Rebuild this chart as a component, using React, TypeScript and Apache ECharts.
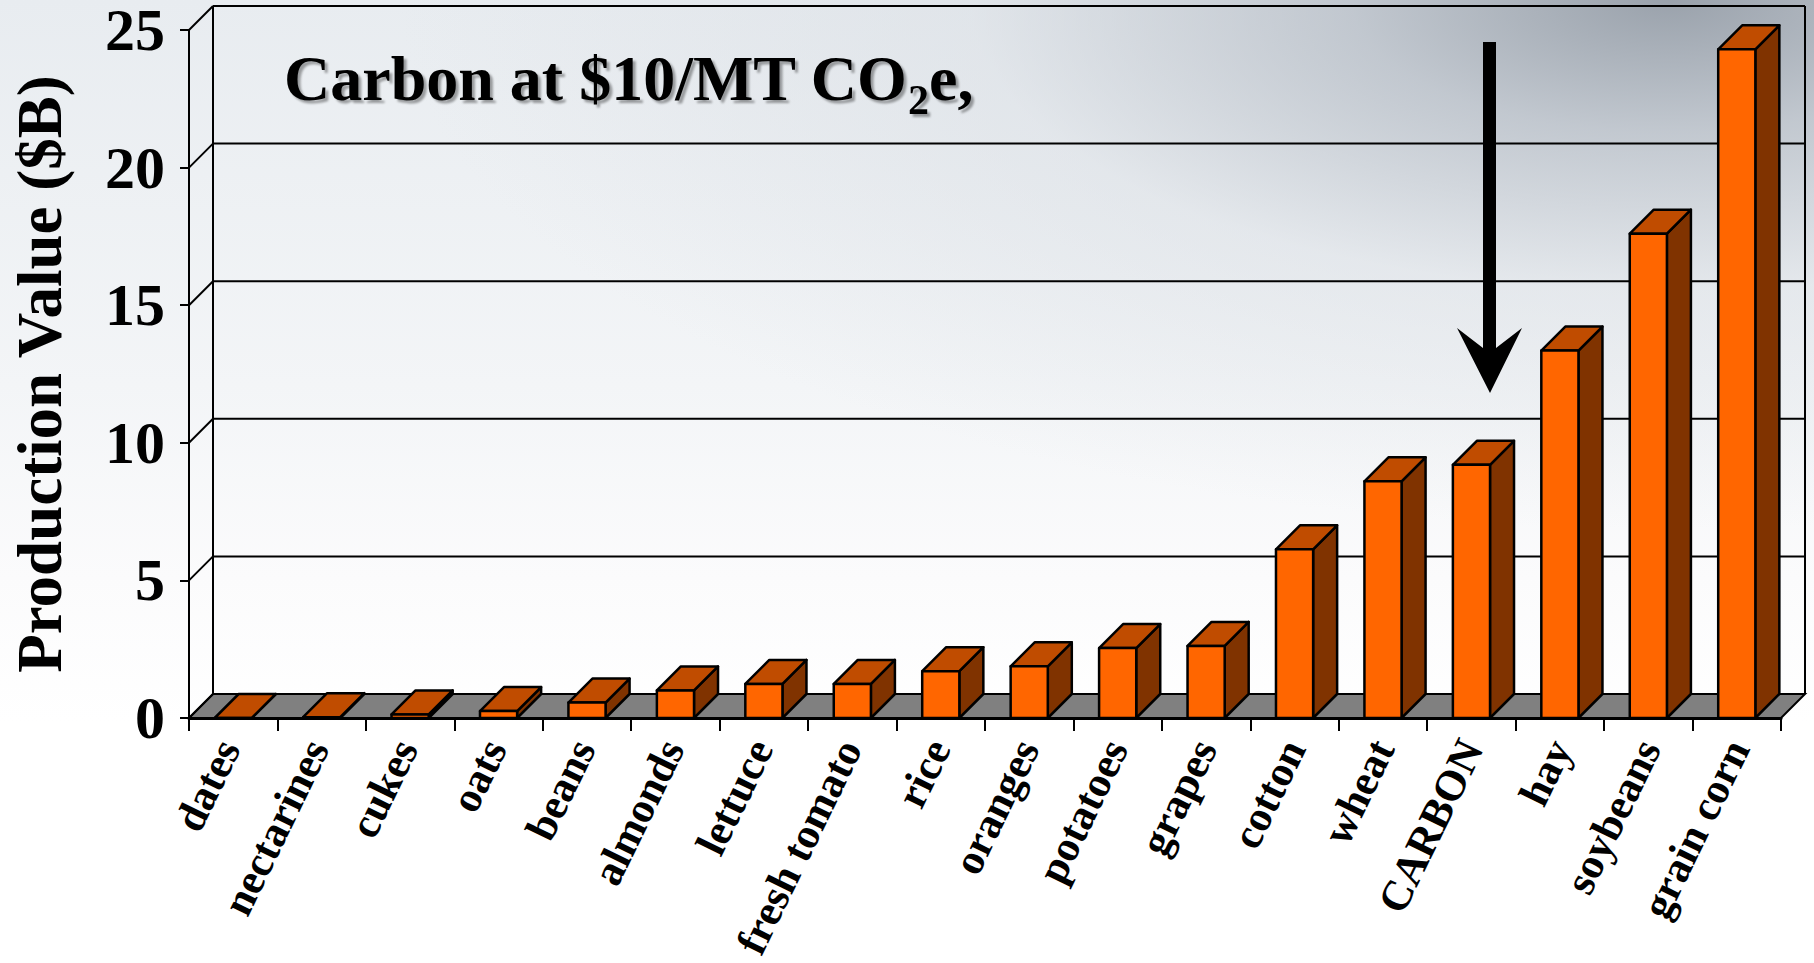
import React, { useEffect, useRef } from "react";
import * as echarts from "echarts";

// ---------- data ----------
const categories = [
  "dates", "nectarines", "cukes", "oats", "beans", "almonds", "lettuce",
  "fresh tomato", "rice", "oranges", "potatoes", "grapes", "cotton",
  "wheat", "CARBON", "hay", "soybeans", "grain corn",
];
const values = [
  0, 0.03, 0.13, 0.25, 0.56, 1.0, 1.24, 1.24, 1.7, 1.88, 2.54, 2.62, 6.13,
  8.6, 9.2, 13.35, 17.6, 24.3,
];
const yTicks = [0, 5, 10, 15, 20, 25];
const yMin = 0;
const yMax = 25;
const yStep = 5;
const titleMain = "Carbon at $10/MT CO";
const titleSub = "2";
const titleEnd = "e,";
const yAxisTitle = "Production Value ($B)";

// ---------- style ----------
const FONT = '"Liberation Serif", "Times New Roman", serif';
const FRONT = "#FF6600";
const TOPC = "#C04C00";
const SIDE = "#803300";
const FLOOR = "#808080";
const D = 24; // depth offset
const BAR_RATIO = 0.42;

function measure(text: string, font: string): number {
  const c = document.createElement("canvas").getContext("2d");
  if (!c) return text.length * 30;
  c.font = font;
  return c.measureText(text).width;
}

export default function App() {
  const ref = useRef<HTMLDivElement>(null);

  useEffect(() => {
    if (!ref.current) return;
    const chart = echarts.init(ref.current, undefined, { renderer: "svg" });

    const gridLeft = 183;
    const gridRight = 33;
    const gridTop = 28;
    const gridBottom = 245;
    const labelShift = 1;

    const mainFont = `bold 64px ${FONT}`;
    const subFont = `bold 42px ${FONT}`;
    const tx = 284;
    const wMain = measure(titleMain, mainFont);
    const wSub = measure(titleSub, subFont);
    const shadow = {
      textShadowColor: "rgba(0,0,0,0.35)",
      textShadowOffsetX: 3,
      textShadowOffsetY: 3,
      textShadowBlur: 2,
    };

    const option: any = {
      animation: false,
      backgroundColor: "transparent",
      grid: [
        { left: gridLeft, right: gridRight, top: gridTop, bottom: gridBottom },
        {
          left: gridLeft + labelShift,
          right: gridRight - labelShift,
          top: gridTop,
          bottom: gridBottom,
        },
      ],
      xAxis: [
        {
          type: "category",
          gridIndex: 0,
          data: categories,
          boundaryGap: true,
          axisLine: { show: true, lineStyle: { color: "#000", width: 3 } },
          axisTick: {
            show: true,
            length: 13,
            interval: 0,
            lineStyle: { color: "#000", width: 2 },
          },
          axisLabel: { show: false },
          splitLine: { show: false },
          z: 10,
        },
        {
          type: "category",
          gridIndex: 1,
          data: categories,
          axisLine: { show: false },
          axisTick: { show: false },
          splitLine: { show: false },
          axisLabel: {
            show: true,
            interval: 0,
            rotate: 64,
            margin: 40,
            fontSize: 43,
            fontWeight: "bold",
            fontFamily: FONT,
            color: "#000",
          },
        },
      ],
      yAxis: [
        {
          type: "value",
          gridIndex: 0,
          min: yMin,
          max: yMax,
          interval: yStep,
          axisLine: { show: true, lineStyle: { color: "#000", width: 2 } },
          axisTick: { show: true, length: 9, lineStyle: { color: "#000", width: 2 } },
          axisLabel: {
            show: true,
            margin: 24,
            fontSize: 60,
            lineHeight: 44,
            fontWeight: "bold",
            fontFamily: FONT,
            color: "#000",
          },
          splitLine: { show: false },
          name: yAxisTitle,
          nameLocation: "middle",
          nameRotate: 90,
          nameGap: 118,
          nameTextStyle: {
            fontSize: 63,
            fontWeight: "bold",
            fontFamily: FONT,
            color: "#000",
          },
          z: 10,
        },
        {
          type: "value",
          gridIndex: 1,
          min: yMin,
          max: yMax,
          interval: yStep,
          show: false,
        },
      ],
      series: [
        {
          type: "custom",
          name: "frame",
          xAxisIndex: 0,
          yAxisIndex: 0,
          silent: true,
          z: 1,
          data: [[0, 0]],
          renderItem: (params: any, api: any) => {
            const cs = params.coordSys;
            const L = cs.x;
            const R = cs.x + cs.width;
            const y0 = api.coord([0, yMin])[1];
            const yT = api.coord([0, yMax])[1];
            const ls = { stroke: "#000", lineWidth: 2 };
            const children: any[] = [
              {
                type: "polygon",
                shape: { points: [[L, y0], [R, y0], [R + D, y0 - D], [L + D, y0 - D]] },
                style: { fill: FLOOR, stroke: "#000", lineWidth: 2 },
              },
            ];
            yTicks.forEach((t) => {
              const y = api.coord([0, t])[1];
              children.push({
                type: "line",
                shape: { x1: L, y1: y, x2: L + D, y2: y - D },
                style: ls,
              });
              children.push({
                type: "line",
                shape: { x1: L + D, y1: y - D, x2: R + D, y2: y - D },
                style: ls,
              });
            });
            children.push({
              type: "line",
              shape: { x1: L + D, y1: y0 - D, x2: L + D, y2: yT - D },
              style: ls,
            });
            children.push({
              type: "line",
              shape: { x1: R + D, y1: y0 - D, x2: R + D, y2: yT - D },
              style: ls,
            });
            return { type: "group", children };
          },
        },
        {
          type: "custom",
          name: "Production Value",
          xAxisIndex: 0,
          yAxisIndex: 0,
          z: 3,
          encode: { x: 0, y: 1 },
          data: values.map((v, i) => [i, v]),
          renderItem: (params: any, api: any) => {
            const i = api.value(0);
            const v = api.value(1);
            const p0 = api.coord([i, 0]);
            const p1 = api.coord([i, v]);
            const cw = api.size([1, 0])[0];
            const bw = cw * BAR_RATIO;
            const x0 = p0[0] - bw / 2;
            const x1 = p0[0] + bw / 2;
            const yb = p0[1];
            const yt = p1[1];
            const st = { stroke: "#000", lineWidth: 2.5, lineJoin: "round" };
            return {
              type: "group",
              children: [
                {
                  type: "polygon",
                  shape: { points: [[x1, yt], [x1 + D, yt - D], [x1 + D, yb - D], [x1, yb]] },
                  style: { ...st, fill: SIDE },
                },
                {
                  type: "polygon",
                  shape: { points: [[x0, yt], [x0 + D, yt - D], [x1 + D, yt - D], [x1, yt]] },
                  style: { ...st, fill: TOPC },
                },
                {
                  type: "rect",
                  shape: { x: x0, y: yt, width: bw, height: Math.max(0, yb - yt) },
                  style: { ...st, fill: FRONT },
                },
              ],
            };
          },
        },
      ],
      graphic: [
        {
          type: "text",
          x: tx,
          y: 78,
          z: 20,
          style: {
            text: titleMain,
            font: mainFont,
            fill: "#000",
            textAlign: "left",
            textVerticalAlign: "middle",
            ...shadow,
          },
        },
        {
          type: "text",
          x: tx + wMain,
          y: 100,
          z: 20,
          style: {
            text: titleSub,
            font: subFont,
            fill: "#000",
            textAlign: "left",
            textVerticalAlign: "middle",
            ...shadow,
          },
        },
        {
          type: "text",
          x: tx + wMain + wSub,
          y: 78,
          z: 20,
          style: {
            text: titleEnd,
            font: mainFont,
            fill: "#000",
            textAlign: "left",
            textVerticalAlign: "middle",
            ...shadow,
          },
        },
        {
          type: "rect",
          z: 20,
          shape: { x: 1483, y: 42, width: 13, height: 310 },
          style: { fill: "#000" },
        },
        {
          type: "polygon",
          z: 20,
          shape: {
            points: [[1457, 328], [1483, 348], [1496, 348], [1522, 328], [1490, 393]],
          },
          style: { fill: "#000" },
        },
      ],
    };

    chart.setOption(option);
    return () => chart.dispose();
  }, []);

  return (
    <div
      ref={ref}
      style={{
        position: "absolute",
        left: 0,
        top: 0,
        width: 1814,
        height: 963,
        background:
          "radial-gradient(ellipse 70% 55% at 92% 0%, rgba(150,158,168,0.95) 0%, rgba(180,187,196,0.75) 25%, rgba(215,220,226,0.45) 55%, rgba(255,255,255,0) 100%), linear-gradient(180deg, #e8ecf0 0%, #f3f5f7 40%, #fbfbfc 60%, #ffffff 75%)",
      }}
    />
  );
}
